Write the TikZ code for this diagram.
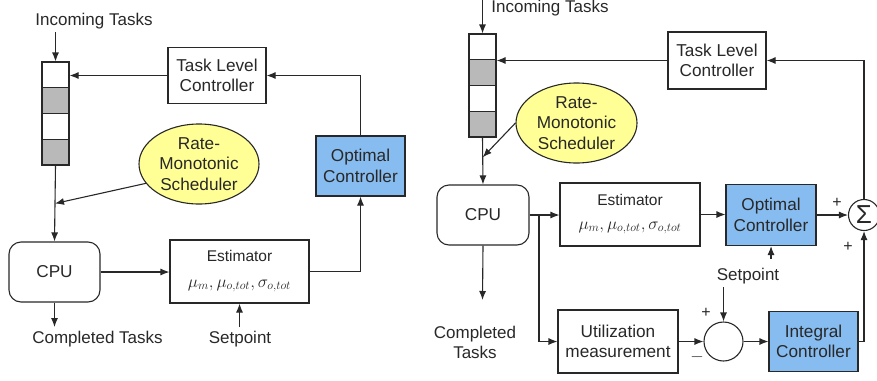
\documentclass[tikz,border=0pt]{standalone}
\usepackage{fontspec}
\setmainfont{Liberation Sans}
\usetikzlibrary{shapes.geometric,arrows.meta,calc}
\definecolor{ctrlblue}{RGB}{135,188,240}
\definecolor{schedyellow}{RGB}{255,255,150}
\definecolor{cellgray}{RGB}{185,185,185}
\definecolor{ink}{RGB}{40,40,40}
\begin{document}
\begin{tikzpicture}[x=1pt,y=-1pt,
  every node/.style={text=ink},
  lbl/.style={font=\fontsize{17}{20}\selectfont, align=center, inner sep=0},
  blk/.style={draw=ink, line width=1.1pt, fill=white, align=center, inner sep=0,
    font=\fontsize{17.2}{20.5}\selectfont},
  ctrl/.style={blk, fill=ctrlblue},
  cpubox/.style={blk, rounded corners=12pt},
  cell/.style={draw=ink, line width=1.1pt, minimum width=27pt, minimum height=25.75pt, inner sep=0, fill=white},
  gcell/.style={cell, fill=cellgray},
  sched/.style={ellipse, draw=ink, line width=1.1pt, fill=schedyellow, align=center, inner sep=0,
    font=\fontsize{17.2}{20.5}\selectfont},
  sumc/.style={circle, draw=ink, line width=1.1pt, fill=white, inner sep=0},
  conn/.style={draw=ink, line width=1.1pt, -{Latex[length=9pt,width=7pt]}},
  sgn/.style={font=\fontsize{16}{16}\selectfont, inner sep=0}
]
\useasboundingbox (0,0) rectangle (877,380);

% ---------------- Left diagram ----------------
\node[lbl] (inc1) at (94,21) {Incoming Tasks};
\coordinate (inc1a) at (55.5,32);
\node[cell]  (q1) at (55.5,74.875) {};
\node[gcell] (q2) at (55.5,100.625) {};
\node[cell]  (q3) at (55.5,126.375) {};
\node[gcell] (q4) at (55.5,152.125) {};
\node[blk, minimum width=98pt, minimum height=56pt] (tlc1) at (217,75.5) {Task Level\\Controller};
\node[ctrl, minimum width=89pt, minimum height=60pt] (oc1) at (360.5,166) {Optimal\\Controller};
\node[sched, minimum width=120pt, minimum height=80pt] (sch1) at (199,164) {Rate-\\Monotonic\\Scheduler};
\node[cpubox, minimum width=91pt, minimum height=60pt] (cpu1) at (54.5,272) {CPU};
\node[blk, minimum width=139pt, minimum height=63pt] (est1) at (239.5,271.5)
  {{\fontsize{15.5}{18}\selectfont Estimator}\\[5pt]{\fontsize{18.5}{20}\selectfont$\mu_m,\mu_{o,tot},\sigma_{o,tot}$}};
\coordinate (out1) at (54.5,327);
\node[lbl] (comp1) at (97.5,339) {Completed Tasks};
\coordinate (sp1a) at (239.5,327);
\node[lbl] (sp1) at (240,339) {Setpoint};

\draw[conn] (inc1a) -- (q1.north);
\draw[conn] (tlc1.west) -- (tlc1.west -| q1.east);
\draw[conn] (oc1.north) |- (tlc1.east);
\draw[conn] (q4.south) -- (cpu1.north);
\coordinate (m1) at ($(q4.south)!0.5!(cpu1.north)$);
\draw[conn] (sch1.200) -- (m1);
\draw[conn] (cpu1.east) -- (cpu1.east -| est1.west);
\draw[conn] (est1.east) -| (oc1.south);
\draw[conn] (cpu1.south) -- (out1);
\draw[conn] (sp1a) -- (sp1a |- est1.south);

% ---------------- Right diagram ----------------
\node[lbl] (inc2) at (550,8.5) {Incoming Tasks};
\coordinate (inc2a) at (482.5,0);
\node[cell]  (r1) at (482.5,46.875) {};
\node[gcell] (r2) at (482.5,72.625) {};
\node[cell]  (r3) at (482.5,98.375) {};
\node[gcell] (r4) at (482.5,124.125) {};
\node[blk, minimum width=98pt, minimum height=57pt] (tlc2) at (717,60.5) {Task Level\\Controller};
\node[sched, minimum width=121pt, minimum height=80pt] (sch2) at (576.5,123) {Rate-\\Monotonic\\Scheduler};
\node[cpubox, minimum width=92pt, minimum height=60pt] (cpu2) at (483,215) {CPU};
\node[blk, minimum width=140pt, minimum height=63pt] (est2) at (630,214.5)
  {{\fontsize{15.5}{18}\selectfont Estimator}\\[3pt]{\fontsize{18.5}{20}\selectfont$\mu_m,\mu_{o,tot},\sigma_{o,tot}$}};
\node[ctrl, minimum width=90pt, minimum height=61pt] (oc2) at (771,215) {Optimal\\Controller};
\node[sumc, minimum size=31pt, font=\fontsize{26}{26}\selectfont] (sig) at (864,215) {Σ};
\node[blk, minimum width=120pt, minimum height=63pt] (util) at (618,341.5) {Utilization\\measurement};
\node[sumc, minimum size=39pt] (sum2) at (723.5,341.5) {};
\node[ctrl, minimum width=89pt, minimum height=60pt] (ic) at (813.5,341.5) {Integral\\Controller};
\node[lbl] (sp2) at (748,276) {Setpoint};
\coordinate (sp2a) at (771,259);
\coordinate (sp2b) at (723.5,287);
\coordinate (br) at (539,215);
\coordinate (out2) at (482.5,300);
\node[lbl] (comp2) at (475,342) {Completed\\Tasks};
\node[sgn] (p1) at (837,203) {+};
\node[sgn] (p2) at (848,247) {+};
\node[sgn] (p3) at (706,313) {+};
\node[sgn] (m3) at (697,357) {$-$};

\draw[conn] (inc2a) -- (r1.north);
\draw[conn] (tlc2.west) -- (tlc2.west -| r1.east);
\draw[conn] (sig.north) |- (tlc2.east);
\draw[conn] (r4.south) -- (cpu2.north);
\coordinate (m2) at ($(r4.south)!0.42!(cpu2.north)$);
\draw[conn] (sch2.west) -- (m2);
\draw[conn] (cpu2.east) -- (cpu2.east -| est2.west);
\draw[conn] (br) |- (util.west);
\draw[conn] (est2.east) -- (est2.east -| oc2.west);
\draw[conn] (oc2.east) -- (sig.west);
\draw[conn] (ic.east) -| (sig.south);
\draw[conn] (util.east) -- (sum2.west);
\draw[conn] (sum2.east) -- (ic.west);
\draw[conn] (sp2a) -- (oc2.south);
\draw[conn] (sp2b) -- (sum2.north);
\draw[conn] (cpu2.south) -- (out2);
\end{tikzpicture}
\end{document}
